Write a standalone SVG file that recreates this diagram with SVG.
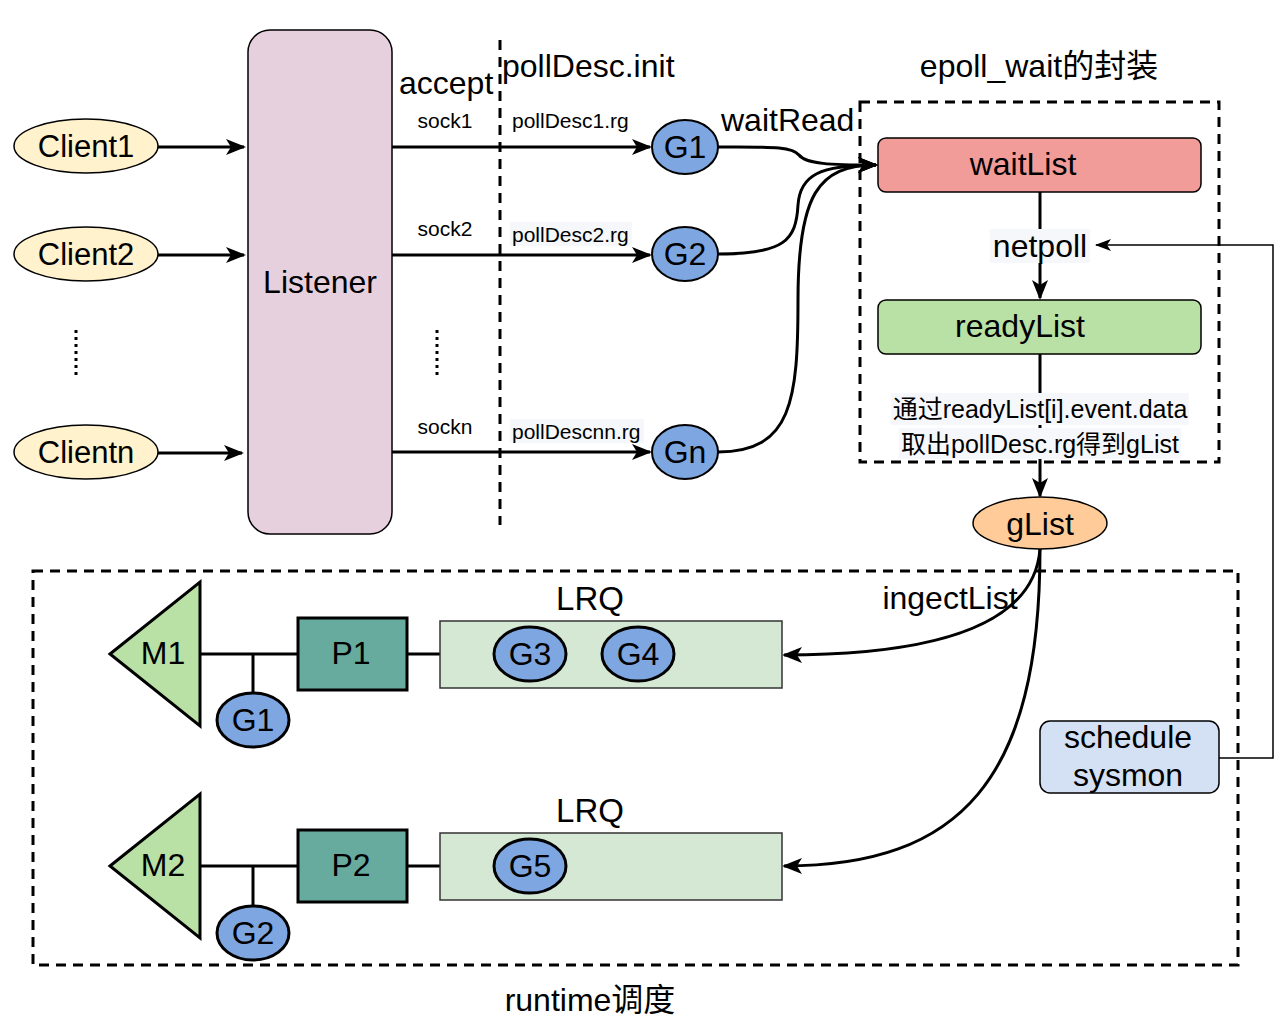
<svg xmlns="http://www.w3.org/2000/svg" width="1288" height="1026" viewBox="0 0 1288 1026">
<defs>
<style>
text{font-family:"Liberation Sans",Arial,sans-serif;fill:#000;}
.cjk{font-family:"Liberation Sans","Noto Sans CJK SC",sans-serif;}
.c{text-anchor:middle;}
.con{fill:none;stroke:#000;stroke-width:3;}
.dash{fill:none;stroke:#000;stroke-width:3;stroke-dasharray:10 7;}
.g{fill:#7ea6e0;stroke:#000;stroke-width:2;}
.gb{fill:#7ea6e0;stroke:#000;stroke-width:3;}
.client{fill:#fff2cc;stroke:#000;stroke-width:1.5;}
</style>
<marker id="ah" viewBox="0 0 20 16" refX="18" refY="8" markerWidth="20" markerHeight="16" markerUnits="userSpaceOnUse" orient="auto">
<path d="M0,0 L20,8 L0,16 L5,8 z" fill="#000"/>
</marker>
<marker id="ahs" viewBox="0 0 16 12" refX="15" refY="6" markerWidth="16" markerHeight="12" markerUnits="userSpaceOnUse" orient="auto">
<path d="M0,0 L16,6 L0,12 L4,6 z" fill="#000"/>
</marker>
</defs>
<rect width="1288" height="1026" fill="#fff"/>

<g id="boundaries">
<line class="dash" x1="500" y1="40" x2="500" y2="525"/>
<rect class="dash" x="860" y="102" width="359" height="360"/>
<rect class="dash" x="33" y="571" width="1205" height="394"/>
<line x1="76" y1="330" x2="76" y2="378" stroke="#000" stroke-width="3" stroke-dasharray="3 4"/>
<line x1="437" y1="330" x2="437" y2="378" stroke="#000" stroke-width="3" stroke-dasharray="3 4"/>
</g>

<g id="connectors">
<path class="con" d="M158,147 L244,147" marker-end="url(#ah)"/>
<path class="con" d="M158,255 L244,255" marker-end="url(#ah)"/>
<path class="con" d="M158,453 L242,453" marker-end="url(#ah)"/>
<path class="con" d="M392,147 L650,147" marker-end="url(#ah)"/>
<path class="con" d="M392,255 L650,255" marker-end="url(#ah)"/>
<path class="con" d="M392,452 L650,452" marker-end="url(#ah)"/>
<path class="con" d="M718,147 C770,147 792,146 799,155 C806,164 830,165 876,165" marker-end="url(#ah)"/>
<path class="con" d="M718,254 C785,254 796,240 798,205 C800,175 820,165 876,165" marker-end="url(#ah)"/>
<path class="con" d="M718,452 C792,452 798,400 798,300 C798,195 818,165 876,165" marker-end="url(#ah)"/>
<path class="con" d="M1040,192 L1040,298" marker-end="url(#ah)"/>
<path class="con" d="M1040,354 L1040,496" marker-end="url(#ah)"/>
<path class="con" d="M1040,549 C1035,615 960,655 784,655" marker-end="url(#ah)"/>
<path class="con" d="M1040,549 C1040,780 960,866 784,866" marker-end="url(#ah)"/>
<path d="M1219,758 L1273,758 L1273,245 L1096,245" fill="none" stroke="#000" stroke-width="1.5" marker-end="url(#ahs)"/>
<path class="con" d="M200,654 L298,654 M253,654 L253,694 M407,654 L440,654"/>
<path class="con" d="M200,866 L298,866 M253,866 L253,906 M407,866 L440,866"/>
</g>

<g id="labels">
<text x="399" y="94" font-size="32">accept</text>
<text x="502" y="77" font-size="32">pollDesc.init</text>
<text x="445" y="128" font-size="21" class="c">sock1</text>
<text x="445" y="236" font-size="21" class="c">sock2</text>
<text x="445" y="434" font-size="21" class="c">sockn</text>
<text x="512" y="128" font-size="21">pollDesc1.rg</text>
<rect x="510" y="222" width="122" height="24" fill="#f5f7fa"/>
<text x="512" y="242" font-size="21">pollDesc2.rg</text>
<rect x="510" y="419" width="134" height="24" fill="#f5f7fa"/>
<text x="512" y="439" font-size="21">pollDescnn.rg</text>
<text x="721" y="131" font-size="32">waitRead</text>
<text x="1039" y="77" font-size="32" class="c cjk">epoll_wait的封装</text>
<rect x="990" y="229" width="100" height="34" fill="#f5f7fa"/>
<text x="1040" y="257" font-size="32" class="c">netpoll</text>
<rect x="891" y="393" width="298" height="32" fill="#f5f7fa"/>
<rect x="899" y="428" width="282" height="31" fill="#f5f7fa"/>
<text x="1040" y="418" font-size="25" class="c cjk">通过readyList[i].event.data</text>
<text x="1040" y="453" font-size="25" class="c cjk">取出pollDesc.rg得到gList</text>
<text x="950" y="609" font-size="32" class="c">ingectList</text>
<text x="590" y="610" font-size="33" class="c">LRQ</text>
<text x="590" y="822" font-size="33" class="c">LRQ</text>
<text x="590" y="1011" font-size="32" class="c cjk">runtime调度</text>
</g>

<g id="client1"><ellipse class="client" cx="86" cy="146" rx="72" ry="27"/><text x="86" y="157" font-size="31" class="c">Client1</text></g>
<g id="client2"><ellipse class="client" cx="86" cy="254" rx="72" ry="27"/><text x="86" y="265" font-size="31" class="c">Client2</text></g>
<g id="clientn"><ellipse class="client" cx="86" cy="452" rx="72" ry="27"/><text x="86" y="463" font-size="31" class="c">Clientn</text></g>

<g id="listener"><rect x="248" y="30" width="144" height="504" rx="22" fill="#e6d0de" stroke="#000" stroke-width="1.5"/><text x="320" y="293" font-size="32" class="c">Listener</text></g>

<g id="g1top"><ellipse class="g" cx="685" cy="147" rx="33" ry="27"/><text x="685" y="158" font-size="32" class="c">G1</text></g>
<g id="g2top"><ellipse class="g" cx="685" cy="254" rx="33" ry="27"/><text x="685" y="265" font-size="32" class="c">G2</text></g>
<g id="gntop"><ellipse class="g" cx="685" cy="452" rx="33" ry="27"/><text x="685" y="463" font-size="32" class="c">Gn</text></g>

<g id="waitList"><rect x="878" y="138" width="323" height="54" rx="8" fill="#f19c99" stroke="#000" stroke-width="1.5"/><text x="1023" y="175" font-size="32" class="c">waitList</text></g>
<g id="readyList"><rect x="878" y="300" width="323" height="54" rx="8" fill="#b9e0a5" stroke="#000" stroke-width="1.5"/><text x="1020" y="337" font-size="32" class="c">readyList</text></g>
<g id="gList"><ellipse cx="1040" cy="523" rx="67" ry="26" fill="#ffcc99" stroke="#000" stroke-width="1.5"/><text x="1040" y="535" font-size="32" class="c">gList</text></g>
<g id="sysmon"><rect x="1040" y="721" width="179" height="72" rx="10" fill="#d4e1f5" stroke="#000" stroke-width="1.5"/><text x="1128" y="748" font-size="32" class="c">schedule</text><text x="1128" y="786" font-size="32" class="c">sysmon</text></g>

<g id="m1"><polygon points="110,654 200,582 200,726" fill="#b9e0a5" stroke="#000" stroke-width="3"/><text x="163" y="664" font-size="32" class="c">M1</text></g>
<g id="p1"><rect x="298" y="618" width="109" height="72" fill="#67ab9f" stroke="#000" stroke-width="3"/><text x="351" y="664" font-size="32" class="c">P1</text></g>
<g id="lrq1"><rect x="440" y="621" width="342" height="67" fill="#d5e8d4" stroke="#333" stroke-width="1.5"/></g>
<g id="g3"><ellipse class="gb" cx="530" cy="654" rx="36" ry="27"/><text x="530" y="665" font-size="32" class="c">G3</text></g>
<g id="g4"><ellipse class="gb" cx="638" cy="654" rx="36" ry="27"/><text x="638" y="665" font-size="32" class="c">G4</text></g>
<g id="g1run"><ellipse class="gb" cx="253" cy="720" rx="36" ry="27"/><text x="253" y="731" font-size="32" class="c">G1</text></g>

<g id="m2"><polygon points="110,866 200,794 200,938" fill="#b9e0a5" stroke="#000" stroke-width="3"/><text x="163" y="876" font-size="32" class="c">M2</text></g>
<g id="p2"><rect x="298" y="830" width="109" height="72" fill="#67ab9f" stroke="#000" stroke-width="3"/><text x="351" y="876" font-size="32" class="c">P2</text></g>
<g id="lrq2"><rect x="440" y="833" width="342" height="67" fill="#d5e8d4" stroke="#333" stroke-width="1.5"/></g>
<g id="g5"><ellipse class="gb" cx="530" cy="866" rx="36" ry="27"/><text x="530" y="877" font-size="32" class="c">G5</text></g>
<g id="g2run"><ellipse class="gb" cx="253" cy="933" rx="36" ry="27"/><text x="253" y="944" font-size="32" class="c">G2</text></g>
</svg>
